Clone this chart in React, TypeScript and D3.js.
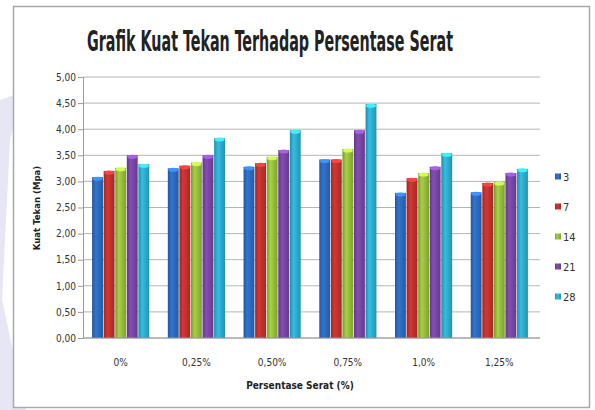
import React, { useEffect, useRef } from "react";
import * as d3 from "d3";

const categories = ["0%", "0,25%", "0,50%", "0,75%", "1,0%", "1,25%"];
const seriesNames = ["3", "7", "14", "21", "28"];
const seriesColors = ["#2c6bbf", "#c2322f", "#98bf3c", "#7a46a6", "#2eaed0"];
const s3 = [3.08, 3.25, 3.28, 3.42, 2.78, 2.79];
const s7 = [3.2, 3.3, 3.35, 3.42, 3.06, 2.97];
const s14 = [3.26, 3.36, 3.47, 3.62, 3.16, 2.99];
const s21 = [3.5, 3.5, 3.6, 3.98, 3.28, 3.16];
const s28 = [3.33, 3.83, 3.98, 4.48, 3.54, 3.24];
const yTicks = [0, 0.5, 1, 1.5, 2, 2.5, 3, 3.5, 4, 4.5, 5];

const W = 595;
const H = 410;
const font = "'DejaVu Sans Condensed', 'Liberation Sans Narrow', 'DejaVu Sans', sans-serif";

const Chart = () => {
  const ref = useRef(null);

  useEffect(() => {
    const svg = d3.select(ref.current);
    svg.selectAll("*").remove();

    const series = [s3, s7, s14, s21, s28];
    const margin = { left: 83, right: 58, top: 77, bottom: 72 };

    const x = d3
      .scaleBand()
      .domain(categories)
      .range([margin.left, W - margin.right])
      .paddingInner(0.245)
      .paddingOuter(0.12);
    const xs = d3.scaleBand().domain(seriesNames).range([0, x.bandwidth()]).paddingInner(0.06);
    const y = d3.scaleLinear().domain([0, 5]).range([H - margin.bottom, margin.top]);

    // gradients for the bars
    const defs = svg.append("defs");
    seriesColors.forEach((c, i) => {
      const g = defs
        .append("linearGradient")
        .attr("id", "bar" + i)
        .attr("x1", "0%")
        .attr("x2", "100%");
      const base = d3.color(c);
      g.append("stop").attr("offset", "0%").attr("stop-color", base.darker(0.6).formatHex());
      g.append("stop").attr("offset", "35%").attr("stop-color", base.brighter(0.25).formatHex());
      g.append("stop").attr("offset", "100%").attr("stop-color", base.darker(0.5).formatHex());
    });

    // watermark on the left edge
    svg
      .append("path")
      .attr("d", "M0,100 L22,92 L10,140 L2,300 L26,410 L0,410 Z")
      .attr("fill", "#dcdcef")
      .attr("opacity", 0.7);

    // outer frame
    svg
      .append("rect")
      .attr("x", 13.5)
      .attr("y", 6.5)
      .attr("width", 576)
      .attr("height", 401)
      .attr("fill", "#fff")
      .attr("stroke", "#a8a8a8")
      .attr("stroke-width", 1.5);

    // title, narrow glyphs stretched upward like the original
    svg
      .append("g")
      .attr("transform", "translate(270,51) scale(1,1.75)")
      .append("text")
      .attr("text-anchor", "middle")
      .attr("font-family", font)
      .attr("font-weight", "bold")
      .attr("font-size", 16)
      .attr("fill", "#222")
      .attr("textLength", 366)
      .attr("lengthAdjust", "spacingAndGlyphs")
      .text("Grafik Kuat Tekan Terhadap Persentase Serat");

    // gridlines
    const xEnd = 540;
    svg
      .append("g")
      .selectAll("line")
      .data(yTicks)
      .join("line")
      .attr("x1", margin.left)
      .attr("x2", xEnd)
      .attr("y1", (d) => y(d))
      .attr("y2", (d) => y(d))
      .attr("stroke", "#b4b4b4")
      .attr("stroke-width", 1);

    // y axis
    const yAxis = svg
      .append("g")
      .attr("transform", `translate(${margin.left},0)`)
      .call(
        d3
          .axisLeft(y)
          .tickValues(yTicks)
          .tickSize(5)
          .tickFormat((d) => d3.format(".2f")(d).replace(".", ","))
      );
    yAxis.select(".domain").attr("stroke", "#9a9a9a");
    yAxis.selectAll(".tick line").attr("stroke", "#9a9a9a");
    yAxis
      .selectAll(".tick text")
      .attr("font-family", font)
      .attr("font-size", 10)
      .attr("fill", "#333")
      .attr("x", -7);

    // bars
    const groups = svg
      .append("g")
      .selectAll("g")
      .data(series)
      .join("g")
      .attr("fill", (d, i) => `url(#bar${i})`);
    groups
      .selectAll("rect")
      .data((d, i) => d.map((v, j) => ({ v, cat: categories[j], s: seriesNames[i] })))
      .join("rect")
      .attr("x", (d) => x(d.cat) + xs(d.s))
      .attr("y", (d) => y(d.v))
      .attr("width", xs.bandwidth())
      .attr("height", (d) => y(0) - y(d.v));
    // lighter top caps
    groups
      .selectAll("ellipse")
      .data((d, i) => d.map((v, j) => ({ v, cat: categories[j], s: seriesNames[i], c: seriesColors[i] })))
      .join("ellipse")
      .attr("cx", (d) => x(d.cat) + xs(d.s) + xs.bandwidth() / 2)
      .attr("cy", (d) => y(d.v) + 1.5)
      .attr("rx", xs.bandwidth() / 2 - 0.5)
      .attr("ry", 2)
      .attr("fill", (d) => d3.color(d.c).brighter(0.9).formatHex());

    // x axis
    svg
      .append("line")
      .attr("x1", margin.left)
      .attr("x2", xEnd)
      .attr("y1", y(0))
      .attr("y2", y(0))
      .attr("stroke", "#9a9a9a");
    svg
      .append("g")
      .selectAll("text")
      .data(categories)
      .join("text")
      .attr("x", (d) => x(d) + x.bandwidth() / 2)
      .attr("y", 366)
      .attr("text-anchor", "middle")
      .attr("font-family", font)
      .attr("font-size", 10)
      .attr("fill", "#333")
      .text((d) => d);

    svg
      .append("text")
      .attr("x", 300)
      .attr("y", 389)
      .attr("text-anchor", "middle")
      .attr("font-family", font)
      .attr("font-weight", "bold")
      .attr("font-size", 10)
      .attr("fill", "#222")
      .text("Persentase Serat (%)");

    svg
      .append("text")
      .attr("transform", `translate(40,208) rotate(-90)`)
      .attr("text-anchor", "middle")
      .attr("font-family", font)
      .attr("font-weight", "bold")
      .attr("font-size", 9.5)
      .attr("fill", "#222")
      .text("Kuat Tekan (Mpa)");

    // legend
    const legend = svg
      .append("g")
      .selectAll("g")
      .data(seriesNames)
      .join("g")
      .attr("transform", (d, i) => `translate(555,${177 + i * 30})`);
    legend
      .append("rect")
      .attr("x", 0)
      .attr("y", -3.5)
      .attr("width", 6)
      .attr("height", 6)
      .attr("fill", (d, i) => `url(#bar${i})`);
    legend
      .append("text")
      .attr("x", 8)
      .attr("y", 3.5)
      .attr("font-family", font)
      .attr("font-size", 11)
      .attr("fill", "#333")
      .text((d) => d);
  }, []);

  return <svg ref={ref} width={W} height={H} style={{ display: "block" }} />;
};

export default function App() {
  return (
    <div style={{ position: "absolute", left: 0, top: 0, width: W, height: H, background: "#fff" }}>
      <Chart />
    </div>
  );
}
